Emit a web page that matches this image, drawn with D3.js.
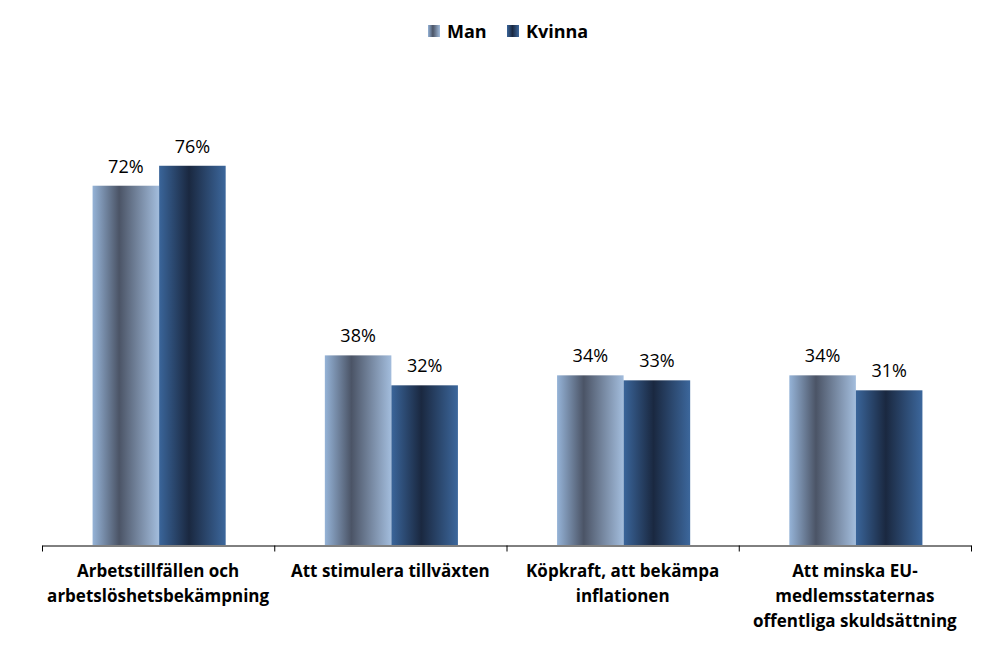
<!DOCTYPE html>
<html>
<head>
<meta charset="utf-8">
<script src="https://cdn.jsdelivr.net/npm/d3@7"></script>
<style>
  body { margin: 0; background: #fff; }
  svg { display: block; font-family: "Open Sans", "Noto Sans", sans-serif; }
</style>
</head>
<body>
<div id="chart"></div>
<script>
// chart data
var categories = [
    ["Arbetstillfällen och", "arbetslöshetsbekämpning"],
    ["Att stimulera tillväxten"],
    ["Köpkraft, att bekämpa", "inflationen"],
    ["Att minska EU-", "medlemsstaternas", "offentliga skuldsättning"]
];
var seriesNames = ["Man", "Kvinna"];
var manValues = [72, 38, 34, 34];
var kvinnaValues = [76, 32, 33, 31];

var width = 1008;
var height = 661;
var left = 42, right = 971;
var baseY = 545, topY = 46;

var svg = d3.select("#chart").append("svg")
    .attr("width", width)
    .attr("height", height);

// gradients like the office "metal" fill
var defs = svg.append("defs");
var gradStops = [
    [["0%", "#95b3d7"], ["40%", "#4b5466"], ["100%", "#a3bddd"]],
    [["0%", "#3a659a"], ["45%", "#1a2840"], ["100%", "#3c679c"]]
];
gradStops.forEach(function(stops, i) {
    var g = defs.append("linearGradient")
        .attr("id", "grad" + i)
        .attr("x1", "0%").attr("x2", "100%")
        .attr("y1", "0%").attr("y2", "0%");
    stops.forEach(function(s) {
        g.append("stop").attr("offset", s[0]).attr("stop-color", s[1]);
    });
});

var x0 = d3.scaleBand()
    .domain(d3.range(categories.length))
    .range([left, right]);

var x1 = d3.scaleBand()
    .domain([0, 1])
    .range([0, x0.bandwidth()])
    .paddingInner(0)
    .paddingOuter(0.745);

var y = d3.scaleLinear().domain([0, 100]).range([baseY, topY]);

var series = [manValues, kvinnaValues];

series.forEach(function(vals, s) {
    var g = svg.append("g");
    g.selectAll("rect")
        .data(vals)
        .enter().append("rect")
        .attr("x", function(d, i) { return x0(i) + x1(s) + 1; })
        .attr("y", function(d) { return y(d); })
        .attr("width", x1.bandwidth())
        .attr("height", function(d) { return baseY - y(d); })
        .attr("fill", "url(#grad" + s + ")");

    g.selectAll("text")
        .data(vals)
        .enter().append("text")
        .attr("x", function(d, i) { return x0(i) + x1(s) + 1 + x1.bandwidth() / 2; })
        .attr("y", function(d) { return y(d) - 13; })
        .attr("text-anchor", "middle")
        .style("font-size", "18px")
        .style("fill", "#000")
        .text(function(d) { return d + "%"; });
});

// category axis
var axisScale = d3.scaleLinear().domain([0, categories.length]).range([left, right]);
var axis = d3.axisBottom(axisScale)
    .tickValues(d3.range(categories.length + 1))
    .tickSize(6)
    .tickSizeOuter(0)
    .tickFormat("");
var axisG = svg.append("g")
    .attr("transform", "translate(0," + (baseY + 0.5) + ")")
    .call(axis);
axisG.select(".domain").attr("stroke", "#000");
axisG.selectAll(".tick line").attr("stroke", "#000");

// category labels
categories.forEach(function(lines, i) {
    var t = svg.append("text")
        .attr("x", x0(i) + x0.bandwidth() / 2)
        .attr("y", 577)
        .attr("text-anchor", "middle")
        .style("font-size", "17px")
        .style("font-weight", "bold");
    lines.forEach(function(line, j) {
        t.append("tspan")
            .attr("x", x0(i) + x0.bandwidth() / 2)
            .attr("dy", j === 0 ? 0 : 25)
            .text(line);
    });
});

// legend
var legendX = [428, 507];
seriesNames.forEach(function(name, i) {
    svg.append("rect")
        .attr("x", legendX[i])
        .attr("y", 25)
        .attr("width", 12)
        .attr("height", 12)
        .attr("fill", "url(#grad" + i + ")");
    svg.append("text")
        .attr("x", legendX[i] + 19)
        .attr("y", 38)
        .style("font-size", "18px")
        .style("font-weight", "bold")
        .text(name);
});
</script>
</body>
</html>
